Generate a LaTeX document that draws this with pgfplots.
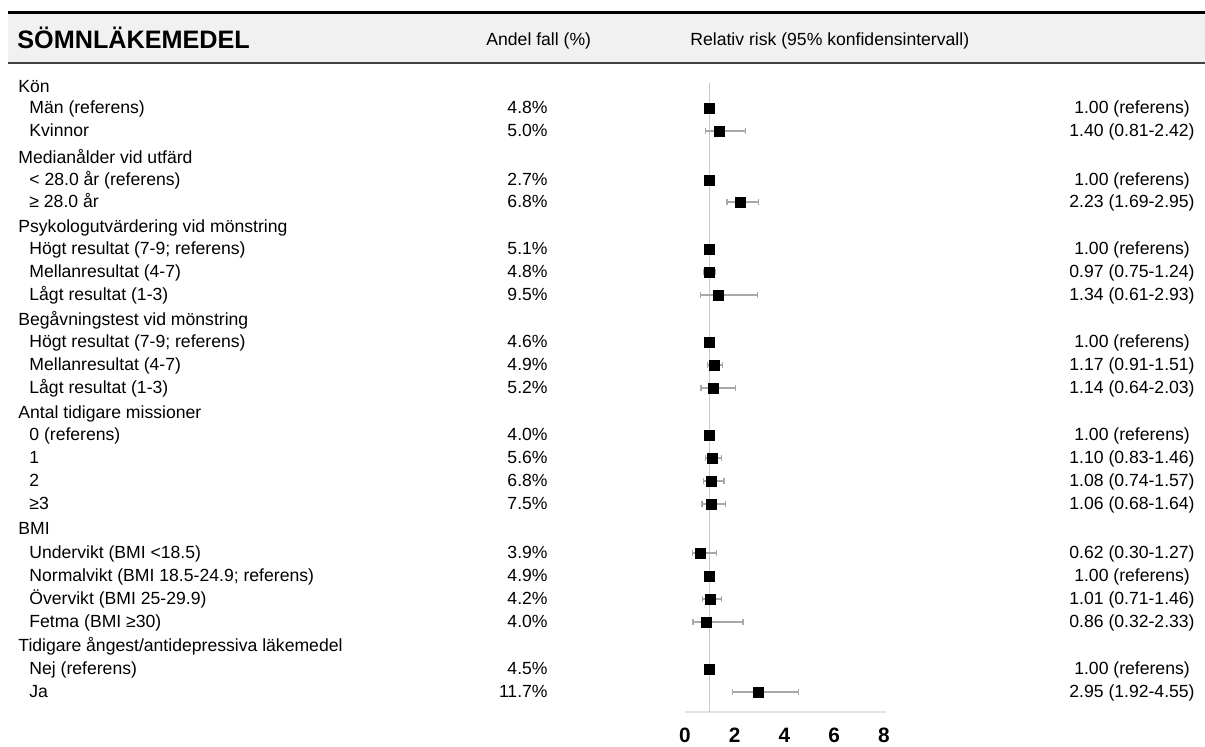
\documentclass[border=0pt]{standalone}
\usepackage{pgfplots}
\pgfplotsset{compat=1.18}
\usepackage{pgfplotstable}
\usepackage{fontspec}
\setmainfont{Liberation Sans}
\definecolor{band}{HTML}{F1F1F1}
\definecolor{ebar}{HTML}{A8A8A8}
\definecolor{refl}{HTML}{C8C8C8}
\definecolor{axl}{HTML}{E2E2E2}

% y = -(pixel row of the row centre)
\pgfplotstableread{
y rr lo hi
-131 1.40 0.81 2.42
-202 2.23 1.69 2.95
-272 0.97 0.75 1.24
-295 1.34 0.61 2.93
-365 1.17 0.91 1.51
-388 1.14 0.64 2.03
-458 1.10 0.83 1.46
-481 1.08 0.74 1.57
-504 1.06 0.68 1.64
-553 0.62 0.30 1.27
-599 1.01 0.71 1.46
-622 0.86 0.32 2.33
-692 2.95 1.92 4.55
}\estdata
\pgfplotstableread{
y rr
-108 1.00
-180 1.00
-249 1.00
-342 1.00
-435 1.00
-576 1.00
-669 1.00
}\refdata

\begin{document}
\begin{tikzpicture}[x=0.5pt,y=0.5pt,font=\fontsize{8.8}{10}\selectfont]
\path[use as bounding box] (0,0) rectangle (1205,-747);
% header band
\fill[band] (8,-14) rectangle (1205,-63);
\draw[line width=1.5pt,black] (8,-13) -- (1205,-13);
\draw[line width=1pt,black!75] (8,-63.5) -- (1205,-63.5);
\node[anchor=base west,inner sep=0pt,font=\bfseries\fontsize{12.6}{14}\selectfont] at (17,-49) {SÖMNLÄKEMEDEL};
\node[anchor=base west,inner sep=0pt] at (486,-46) {Andel fall (\%)};
\node[anchor=base west,inner sep=0pt] at (690,-46) {Relativ risk (95\% konfidensintervall)};

\begin{axis}[at={(342.5pt,0pt)},anchor=north west,
  x=12.4375pt,y=0.5pt,xmin=0,xmax=8.1,ymin=-712,ymax=0,
  clip=false,
  axis y line=none,
  axis x line*=bottom,
  x axis line style={-,draw=axl,line width=1pt},
  xtick={0,2,4,6,8},xticklabels={0,2,4,6,8},
  major tick length=0pt,
  xticklabel style={anchor=center,yshift=-11.5pt,font=\bfseries\fontsize{10.4}{12}\selectfont},
  ]
\draw[refl,line width=0.6pt] (axis cs:1,-83) -- (axis cs:1,-712);
\addplot[only marks,mark=square*,mark size=2.5pt,black,
  error bars/.cd,x dir=both,x explicit,
  error bar style={ebar,line width=0.6pt},
  error mark options={ebar,mark size=1.6pt,rotate=90,line width=0.6pt}]
  table[x=rr,y=y,x error plus expr=\thisrow{hi}-\thisrow{rr},x error minus expr=\thisrow{rr}-\thisrow{lo}] {\estdata};
\addplot[only marks,mark=square*,mark size=2.5pt,black] table[x=rr,y=y] {\refdata};
\end{axis}

% left labels
\foreach \t/\yy in {Kön/87,Medianålder vid utfärd/158,Psykologutvärdering vid mönstring/227,Begåvningstest vid mönstring/320,Antal tidigare missioner/413,BMI/529,{Tidigare ångest/antidepressiva läkemedel}/646}
  \node[anchor=base west,inner sep=0pt] at (18,-\yy-6) {\t};
\foreach \t/\yy in {Män (referens)/108,Kvinnor/131,< 28.0 år (referens)/180,≥ 28.0 år/202,Högt resultat (7-9; referens)/249,Mellanresultat (4-7)/272,Lågt resultat (1-3)/295,Högt resultat (7-9; referens)/342,Mellanresultat (4-7)/365,Lågt resultat (1-3)/388,0 (referens)/435,1/458,2/481,≥3/504,Undervikt (BMI <18.5)/553,Normalvikt (BMI 18.5-24.9; referens)/576,Övervikt (BMI 25-29.9)/599,Fetma (BMI ≥30)/622,Nej (referens)/669,Ja/692}
  \node[anchor=base west,inner sep=0pt] at (29,-\yy-6) {\t};
% share of cases
\foreach \t/\yy in {4.8/108,5.0/131,2.7/180,6.8/202,5.1/249,4.8/272,9.5/295,4.6/342,4.9/365,5.2/388,4.0/435,5.6/458,6.8/481,7.5/504,3.9/553,4.9/576,4.2/599,4.0/622,4.5/669,11.7/692}
  \node[anchor=base east,inner sep=0pt] at (548,-\yy-6) {\t\%};
% relative risk text
\foreach \t/\yy in {1.00 (referens)/108,1.40 (0.81-2.42)/131,1.00 (referens)/180,2.23 (1.69-2.95)/202,1.00 (referens)/249,0.97 (0.75-1.24)/272,1.34 (0.61-2.93)/295,1.00 (referens)/342,1.17 (0.91-1.51)/365,1.14 (0.64-2.03)/388,1.00 (referens)/435,1.10 (0.83-1.46)/458,1.08 (0.74-1.57)/481,1.06 (0.68-1.64)/504,0.62 (0.30-1.27)/553,1.00 (referens)/576,1.01 (0.71-1.46)/599,0.86 (0.32-2.33)/622,1.00 (referens)/669,2.95 (1.92-4.55)/692}
  \node[anchor=base,inner sep=0pt] at (1132,-\yy-6) {\t};
\end{tikzpicture}
\end{document}
